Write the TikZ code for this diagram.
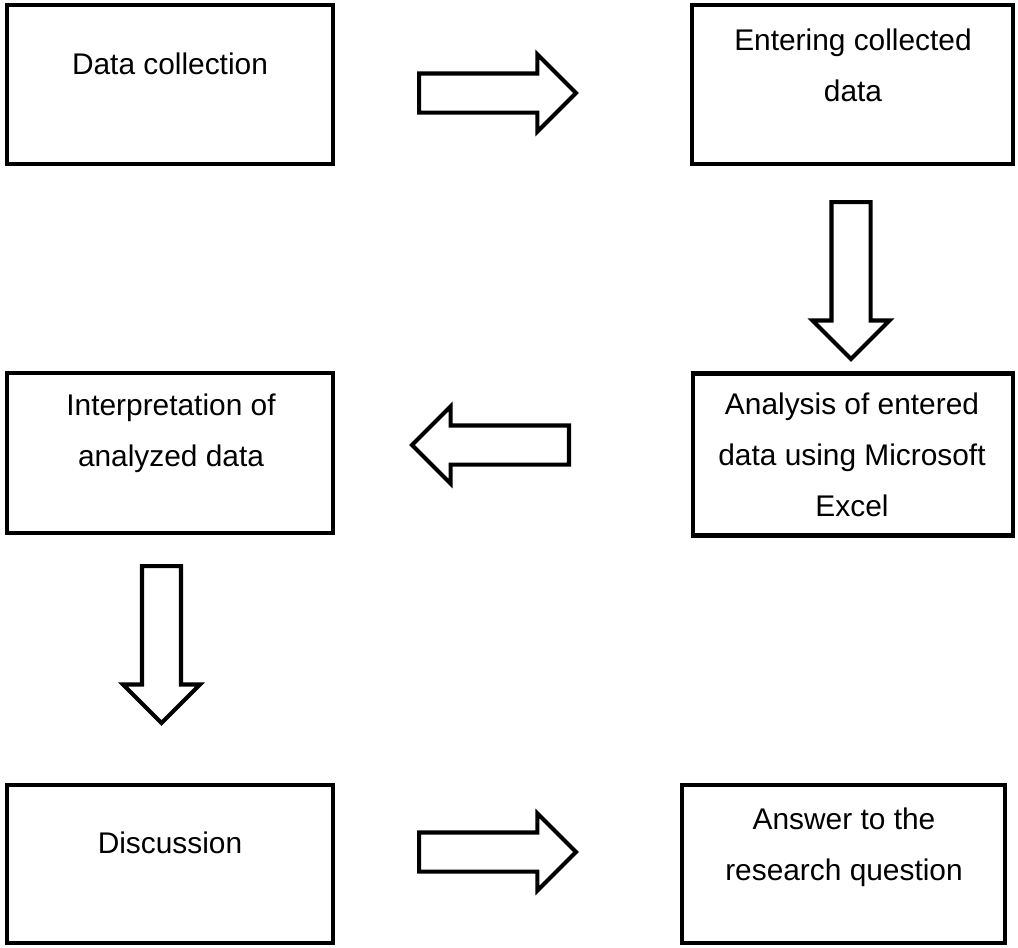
\documentclass[tikz,border=0pt]{standalone}
\usepackage{fontspec}
\setmainfont{Liberation Sans}
\usetikzlibrary{shapes.arrows}

\begin{document}
\begin{tikzpicture}
        [x=0.02cm, y=-0.02cm,
         box/.style={draw, rectangle, line width=2.6pt, inner sep=0, minimum width=6.52cm, minimum height=3.18cm},
         txt/.style={inner sep=0, align=center, font=\fontsize{17}{29}\selectfont},
         flow/.style={draw, single arrow, anchor=tail, line width=2.3pt, inner xsep=0, inner ysep=0.35cm,
                      single arrow head extend=0.38cm, minimum height=3.14cm}]

        \useasboundingbox (0,0) rectangle (1018,947);

        % boxes
        \node[box] (s1) at (170, 84.5) {};
        \node[box, minimum width=6.42cm] (s2) at (852.5, 84.5) {};
        \node[box, minimum width=6.40cm, minimum height=3.24cm] (s3) at (853, 454.5) {};
        \node[box, minimum height=3.2cm] (s4) at (170, 453) {};
        \node[box, minimum height=3.16cm] (s5) at (170, 864) {};
        \node[box, minimum width=6.46cm, minimum height=3.16cm] (s6) at (843.5, 864) {};

        % texts
        \node[txt] (t1) at (170, 64) {Data collection};
        \node[txt] (t2) at (853, 65) {Entering collected\\data};
        \node[txt] (t3) at (852, 455) {Analysis of entered\\data using Microsoft\\Excel};
        \node[txt] (t4) at (171, 433) {Interpretation of\\analyzed data};
        \node[txt] (t5) at (170, 843) {Discussion};
        \node[txt] (t6) at (844, 847) {Answer to the\\research question};

        % block arrows, placed by their tails
        \node[flow] (a1) at (417, 93) {};
        \node[flow, rotate=-90] (a2) at (851, 200) {};
        \node[flow, rotate=180] (a3) at (571, 445) {};
        \node[flow, rotate=-90] (a4) at (161.5, 564) {};
        \node[flow] (a5) at (417, 852) {};

\end{tikzpicture}
\end{document}
